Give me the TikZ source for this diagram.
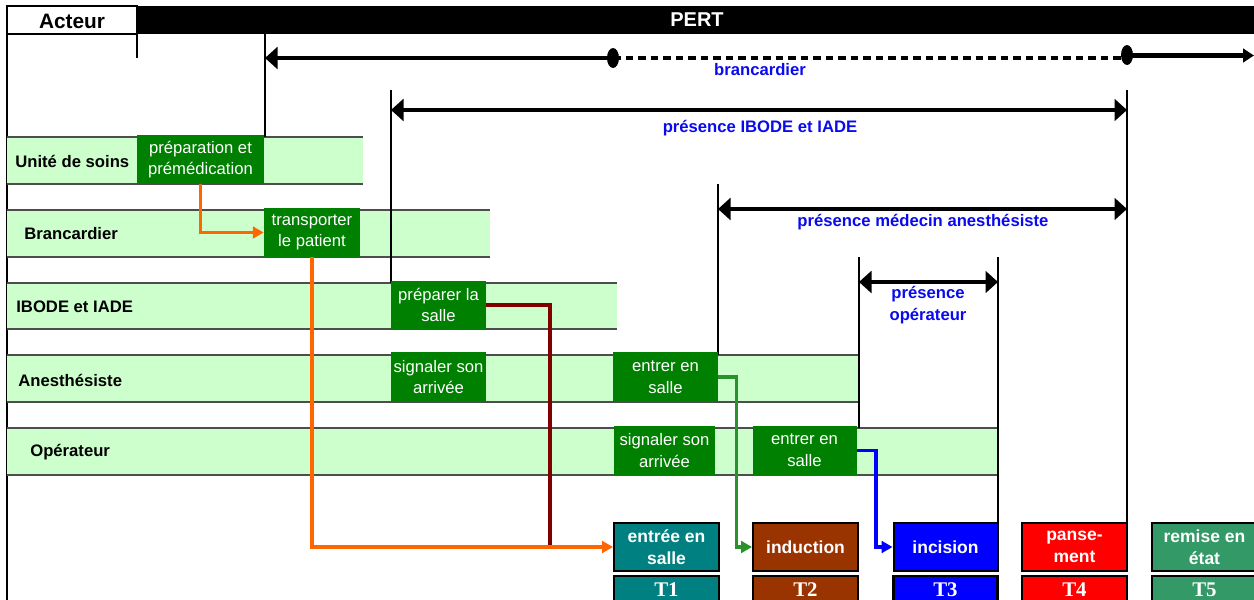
\documentclass[tikz,border=0pt]{standalone}
\usepackage{fontspec}
\setmainfont{Liberation Sans}
\newfontfamily\tnr{Liberation Serif}
\usetikzlibrary{arrows.meta}
\definecolor{lanefill}{HTML}{CCFFCC}
\definecolor{lanerule}{HTML}{4D4D4D}
\definecolor{actgreen}{HTML}{008000}
\definecolor{corange}{HTML}{FF6600}
\definecolor{cdred}{HTML}{800000}
\definecolor{cgreen}{HTML}{2A922A}
\definecolor{cblue}{HTML}{0000FF}
\definecolor{lblblue}{HTML}{0A0AEE}
\definecolor{cteal}{HTML}{008080}
\definecolor{cbrown}{HTML}{993300}
\definecolor{cred}{HTML}{FF0000}
\definecolor{csea}{HTML}{339966}
\tikzset{
  bx/.style 2 args={minimum width=#1*0.6pt, minimum height=#2*0.6pt},
  act/.style={fill=actgreen, text=white, inner sep=0pt, align=center,
    font=\fontsize{10}{13}\selectfont},
  milestone/.style={fill=#1, draw=black, line width=1.2pt, text=white, inner sep=0pt,
    align=center, font=\bfseries\fontsize{10.5}{13.5}\selectfont},
  tbox/.style={fill=#1, draw=black, line width=1.5pt, text=white, inner sep=0pt,
    font=\tnr\bfseries\fontsize{12.5}{12.5}\selectfont},
  lanetxt/.style={anchor=west, inner sep=0pt, font=\bfseries\fontsize{10}{12}\selectfont},
  spanlbl/.style={text=lblblue, inner sep=0pt, align=center,
    font=\bfseries\fontsize{10}{13}\selectfont},
  vline/.style={line width=1.3pt},
  span/.style={line width=2.6pt, {Triangle[length=7.5pt,width=13pt]}-{Triangle[length=7.5pt,width=13pt]}},
  link/.style={line width=2pt, -{Triangle[length=6.5pt,width=7pt]}},
  lanerect/.style={fill=lanefill},
  laneedge/.style={draw=lanerule, line width=1.4pt}
}
\begin{document}
\begin{tikzpicture}[x=0.6pt,y=-0.6pt]
\useasboundingbox (0,0) rectangle (1254,600);
% header
\fill[black] (137,6) rectangle (1254,34);
\node[text=white, font=\bfseries\fontsize{12}{12}\selectfont] (pert) at (697,20) {PERT};
\draw[line width=1.3pt, fill=white] (7,6) rectangle (137,34);
\node[font=\bfseries\fontsize{12.5}{12}\selectfont] (acteur) at (72,21) {Acteur};
\draw[vline] (7,6) -- (7,600);
\draw[vline] (137,34) -- (137,58);
% lanes
\foreach \yt/\yb/\xe in {137/184/363, 210/257/490, 283/329/617, 355/402/858, 428/475/997}{
  \fill[lanerect] (7,\yt) rectangle (\xe,\yb);
  \draw[laneedge] (7,\yt) -- (\xe,\yt);
  \draw[laneedge] (7,\yb) -- (\xe,\yb);
}
\node[lanetxt] (l1) at (15,161) {Unité de soins};
\node[lanetxt] (l2) at (24,234) {Brancardier};
\node[lanetxt] (l3) at (16,307) {IBODE et IADE};
\node[lanetxt] (l4) at (18,380) {Anesthésiste};
\node[lanetxt] (l5) at (30,452) {Opérateur};
% vertical guide lines
\draw[vline] (265,34) -- (265,137);
\draw[vline] (391,90) -- (391,283);
\draw[vline] (718,184) -- (718,355);
\draw[vline] (859,257) -- (859,428);
\draw[vline] (998,257) -- (998,523);
\draw[vline] (1127,90) -- (1127,523);
% brancardier span
\draw[line width=2.6pt, {Triangle[length=7.5pt,width=13pt]}-] (265,58) -- (613,58);
\draw[line width=2.6pt, dash pattern=on 4.5pt off 3pt] (613,58) -- (1127,58);
\draw[line width=2.6pt, -{Triangle[length=6.5pt,width=8pt]}] (1127,55.5) -- (1254,55.5);
\fill (613,58) ellipse [x radius=3.6pt, y radius=6pt];
\fill (1127,55) ellipse [x radius=3.6pt, y radius=6pt];
\node[spanlbl] (sbr) at (760,70) {brancardier};
% presence spans
\draw[span] (391,110) -- (1127,110);
\node[spanlbl] (sib) at (760,128) {présence IBODE et IADE};
\draw[span] (718,209) -- (1127,209);
\node[spanlbl] (sme) at (923,222) {présence médecin anesthésiste};
\draw[span] (859,282) -- (998,282);
\node[spanlbl] (sop) at (928,305) {présence\\opérateur};
% activities
\node[act, bx={127}{49}] (prep) at (200.5,159.5) {préparation et\\prémédication};
\node[act, bx={96}{49}] (transp) at (312,232.5) {transporter\\le patient};
\node[act, bx={95}{48}] (psalle) at (438.5,305) {préparer la\\salle};
\node[act, bx={95}{50}] (sig1) at (438.5,377) {signaler son\\arrivée};
\node[act, bx={105}{50}] (ent1) at (665.5,377) {entrer en\\salle};
\node[act, bx={101}{49}] (sig2) at (664.5,450.5) {signaler son\\arrivée};
\node[act, bx={104}{49}] (ent2) at (804.5,450.5) {entrer en\\salle};
% milestones
\node[milestone=cteal, bx={105}{48}] (m1) at (666.5,547) {entrée en\\salle};
\node[milestone=cbrown, bx={105}{48}] (m2) at (805.5,547) {induction};
\node[milestone=cblue, bx={104}{48}] (m3) at (945.5,547) {incision};
\node[milestone=cred, bx={105}{48}] (m4) at (1074.5,547) {panse-\\ment};
\node[milestone=csea, bx={105}{48}] (m5) at (1204.5,547) {remise en\\état};
\node[tbox=cteal, bx={105}{27}] (t1) at (666.5,589.5) {T1};
\node[tbox=cbrown, bx={105}{27}] (t2) at (805.5,589.5) {T2};
\node[tbox=cblue, bx={104}{27}] (t3) at (945.5,589.5) {T3};
\node[tbox=cred, bx={105}{27}] (t4) at (1074.5,589.5) {T4};
\node[tbox=csea, bx={105}{27}] (t5) at (1204.5,589.5) {T5};
% links
\coordinate (join) at (550,547);
\draw[link, corange] (prep.south) |- (transp.west);
\draw[line width=2pt, cdred] (psalle.east) -| (join);
\draw[link, corange] (transp.south) |- (m1.west);
\draw[link, cgreen] (ent1.east) -- ++(18,0) |- (m2.west);
\draw[link, cblue] (ent2.east) -- ++(19,0) |- (m3.west);
\end{tikzpicture}
\end{document}
